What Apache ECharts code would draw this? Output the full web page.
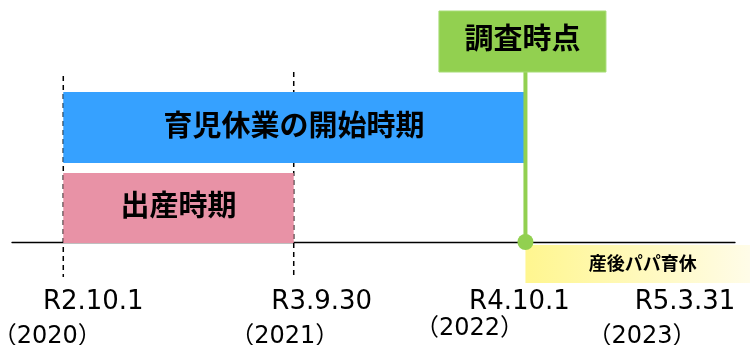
<!DOCTYPE html>
<html>
<head>
<meta charset="utf-8">
<script src="https://cdn.jsdelivr.net/npm/echarts@6/dist/echarts.min.js"></script>
<style>
  html, body { margin: 0; padding: 0; background: #fff; }
  #chart { width: 750px; height: 345px; }
</style>
</head>
<body>
<div id="chart"></div>
<script>
// Milestones on the timeline (Reiwa-era dates with Gregorian years)
const milestoneDates = ['2020-10-01', '2021-09-30', '2022-10-01', '2023-03-31'];
const milestoneLabels = ['R2.10.1', 'R3.9.30', 'R4.10.1', 'R5.3.31'];
const milestoneYears = ['（2020）', '（2021）', '（2022）', '（2023）'];

// Periods drawn as bars
const periodNames = ['育児休業の開始時期', '出産時期'];
const periodStarts = ['2020-10-01', '2020-10-01'];
const periodEnds = ['2022-09-30', '2021-09-30'];

// Survey reference date
const surveyName = '調査時点';
const surveyDate = '2022-10-01';

// Scheme that starts on the survey date
const schemeName = '産後パパ育休';
const schemeStart = '2022-10-01';

// Dashed guide lines
const guideDates = ['2020-10-01', '2021-09-30'];

// Visible time range of the axis
const axisRange = ['2020-07-12', '2023-08-28'];

// Vertical layout (in y-axis units, 0 at top) and label nudges
const LAYOUT = {
  periodBands: [[92, 163], [173, 243]],
  periodColors: ['#36a1ff', '#e892a6'],
  guideTops: [76, 72],
  guideBottom: 277,
  surveyBox: { top: 11, bottom: 72, width: 167 },
  surveyLineBottom: 242,
  dotRadius: 8,
  schemeBand: [245, 283],
  dateLabelY: 302,
  yearLabelY: 337,
  dateShift: [30, 28, -6, 45],
  yearShift: [-16, -9, -56, 2],
  yearLift: [0, 0, -8, 0]
};

const GREEN = '#92d050';
const JP_FONT = '"Noto Sans CJK JP", "Noto Sans CJK SC", sans-serif';

function toTime(s) {
  const [y, m, d] = s.split('-').map(Number);
  return new Date(y, m - 1, d).getTime();
}

const chart = echarts.init(document.getElementById('chart'), null, { renderer: 'canvas' });

const option = {
  animation: false,
  backgroundColor: '#fff',
  grid: { left: 12, right: 15, top: 0, bottom: 103 },
  xAxis: {
    type: 'time',
    position: 'bottom',
    min: toTime(axisRange[0]),
    max: toTime(axisRange[1]),
    axisLine: { show: true, onZero: false, lineStyle: { color: '#000', width: 1.3 } },
    axisTick: { show: false },
    axisLabel: { show: false },
    splitLine: { show: false }
  },
  yAxis: { type: 'value', min: 0, max: 242, inverse: true, show: false },
  series: [
    // Dashed vertical guides
    {
      type: 'custom',
      z: 1,
      clip: false,
      encode: { x: 0 },
      data: guideDates.map((d, i) => [toTime(d), i]),
      renderItem(params, api) {
        const i = params.dataIndex;
        const x = api.coord([api.value(0), 0])[0];
        const y0 = api.coord([api.value(0), LAYOUT.guideTops[i]])[1];
        const y1 = api.coord([api.value(0), LAYOUT.guideBottom])[1];
        return {
          type: 'line',
          shape: { x1: x, y1: y0, x2: x, y2: y1 },
          style: { stroke: '#000', lineWidth: 1.5, lineDash: [5, 4] }
        };
      }
    },
    // Period bars with their names
    {
      type: 'custom',
      z: 3,
      clip: false,
      encode: { x: [0, 1] },
      data: periodStarts.map((s, i) => [toTime(s), toTime(periodEnds[i]), i]),
      renderItem(params, api) {
        const i = params.dataIndex;
        const x0 = api.coord([api.value(0), 0])[0];
        const x1 = api.coord([api.value(1), 0])[0];
        const band = LAYOUT.periodBands[i];
        const y0 = api.coord([api.value(0), band[0]])[1];
        const y1 = api.coord([api.value(0), band[1]])[1];
        return {
          type: 'group',
          children: [
            {
              type: 'rect',
              shape: { x: x0, y: y0, width: x1 - x0, height: y1 - y0 },
              style: { fill: LAYOUT.periodColors[i] }
            },
            {
              type: 'text',
              style: {
                text: periodNames[i], x: (x0 + x1) / 2, y: (y0 + y1) / 2 - 3,
                align: 'center', verticalAlign: 'middle',
                font: 'bold 29px ' + JP_FONT, fill: '#000'
              }
            }
          ]
        };
      }
    },
    // Scheme tag below the axis
    {
      type: 'custom',
      z: 3,
      clip: false,
      encode: { x: 0 },
      data: [[toTime(schemeStart)]],
      renderItem(params, api) {
        const x0 = api.coord([api.value(0), 0])[0];
        const x1 = api.getWidth();
        const y0 = api.coord([api.value(0), LAYOUT.schemeBand[0]])[1];
        const y1 = api.coord([api.value(0), LAYOUT.schemeBand[1]])[1];
        return {
          type: 'group',
          children: [
            {
              type: 'rect',
              shape: { x: x0, y: y0, width: x1 - x0, height: y1 - y0 },
              style: {
                fill: new echarts.graphic.LinearGradient(0, 0, 1, 0, [
                  { offset: 0, color: '#fff68f' },
                  { offset: 1, color: '#fffce8' }
                ])
              }
            },
            {
              type: 'text',
              style: {
                text: schemeName, x: (x0 + x1) / 2 + 5, y: (y0 + y1) / 2 - 1,
                align: 'center', verticalAlign: 'middle',
                font: 'bold 18px ' + JP_FONT, fill: '#000'
              }
            }
          ]
        };
      }
    },
    // Survey date: marker line, dot and title box
    {
      type: 'custom',
      z: 5,
      clip: false,
      encode: { x: 0 },
      data: [[toTime(surveyDate)]],
      renderItem(params, api) {
        const x = api.coord([api.value(0), 0])[0];
        const box = LAYOUT.surveyBox;
        const yTop = api.coord([api.value(0), box.top])[1];
        const yBox = api.coord([api.value(0), box.bottom])[1];
        const yEnd = api.coord([api.value(0), LAYOUT.surveyLineBottom])[1];
        return {
          type: 'group',
          children: [
            {
              type: 'line',
              shape: { x1: x, y1: yBox, x2: x, y2: yEnd },
              style: { stroke: GREEN, lineWidth: 4 }
            },
            {
              type: 'circle',
              shape: { cx: x, cy: yEnd, r: LAYOUT.dotRadius },
              style: { fill: GREEN }
            },
            {
              type: 'rect',
              shape: { x: x - box.width / 2 - 3, y: yTop, width: box.width, height: yBox - yTop },
              style: { fill: GREEN, stroke: '#a6dc74', lineWidth: 1 }
            },
            {
              type: 'text',
              style: {
                text: surveyName, x: x - 3, y: (yTop + yBox) / 2 - 4,
                align: 'center', verticalAlign: 'middle',
                font: 'bold 29px ' + JP_FONT, fill: '#000'
              }
            }
          ]
        };
      }
    },
    // Milestone date labels
    {
      type: 'custom',
      z: 4,
      clip: false,
      encode: { x: 0 },
      data: milestoneDates.map((d, i) => [toTime(d), i]),
      renderItem(params, api) {
        const i = params.dataIndex;
        const x = api.coord([api.value(0), 0])[0];
        const yDate = api.coord([api.value(0), LAYOUT.dateLabelY])[1];
        const yYear = api.coord([api.value(0), LAYOUT.yearLabelY + LAYOUT.yearLift[i]])[1];
        return {
          type: 'group',
          children: [
            {
              type: 'text',
              style: {
                text: milestoneLabels[i], x: x + LAYOUT.dateShift[i], y: yDate,
                align: 'center', verticalAlign: 'middle',
                font: '26px "DejaVu Sans", sans-serif', fill: '#000'
              }
            },
            {
              type: 'text',
              style: {
                text: milestoneYears[i], x: x + LAYOUT.yearShift[i], y: yYear,
                align: 'center', verticalAlign: 'middle',
                font: '24px "DejaVu Sans", ' + JP_FONT, fill: '#000'
              }
            }
          ]
        };
      }
    }
  ]
};

chart.setOption(option);
</script>
</body>
</html>
